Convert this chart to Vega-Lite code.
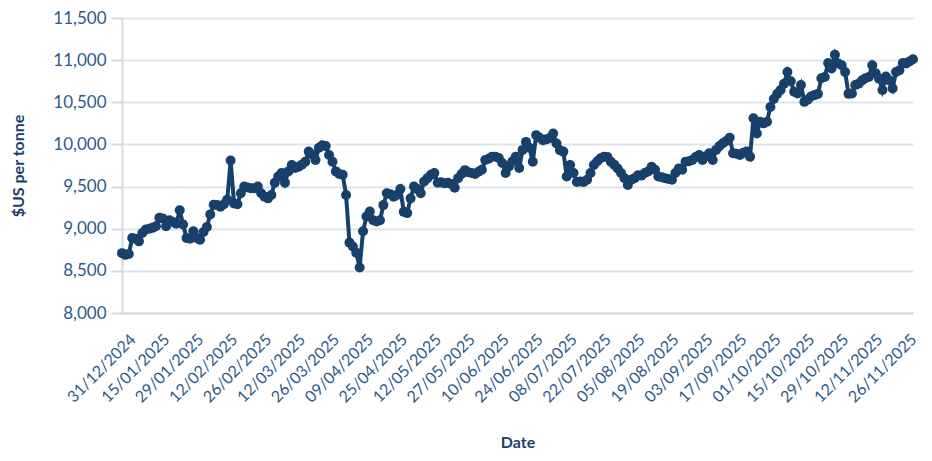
{
  "$schema": "https://vega.github.io/schema/vega-lite/v6.json",
  "width": 791,
  "height": 295,
  "autosize": "none",
  "padding": {"left": 122, "top": 18, "right": 19, "bottom": 148},
  "background": "white",
  "config": {
    "view": {"stroke": null},
    "font": "Lato",
    "axis": {
      "labelFont": "Lato",
      "titleFont": "Lato",
      "labelColor": "#2c5a88",
      "titleColor": "#17406b",
      "domainColor": "#d3d9e1",
      "domainWidth": 2,
      "gridColor": "#dfe4ea",
      "gridWidth": 2,
      "tickColor": "#d3d9e1",
      "tickWidth": 2
    }
  },
  "data": {
    "values": [
      {"Date": "31/12/2024", "Price": 8710},
      {"Date": "02/01/2025", "Price": 8690},
      {"Date": "03/01/2025", "Price": 8700},
      {"Date": "06/01/2025", "Price": 8890},
      {"Date": "07/01/2025", "Price": 8880},
      {"Date": "08/01/2025", "Price": 8850},
      {"Date": "09/01/2025", "Price": 8950},
      {"Date": "10/01/2025", "Price": 8990},
      {"Date": "13/01/2025", "Price": 9000},
      {"Date": "14/01/2025", "Price": 9010},
      {"Date": "15/01/2025", "Price": 9030},
      {"Date": "16/01/2025", "Price": 9130},
      {"Date": "17/01/2025", "Price": 9120},
      {"Date": "20/01/2025", "Price": 9030},
      {"Date": "21/01/2025", "Price": 9100},
      {"Date": "22/01/2025", "Price": 9080},
      {"Date": "23/01/2025", "Price": 9060},
      {"Date": "24/01/2025", "Price": 9220},
      {"Date": "27/01/2025", "Price": 9050},
      {"Date": "28/01/2025", "Price": 8890},
      {"Date": "29/01/2025", "Price": 8880},
      {"Date": "30/01/2025", "Price": 8970},
      {"Date": "31/01/2025", "Price": 8890},
      {"Date": "03/02/2025", "Price": 8870},
      {"Date": "04/02/2025", "Price": 8960},
      {"Date": "05/02/2025", "Price": 9020},
      {"Date": "06/02/2025", "Price": 9170},
      {"Date": "07/02/2025", "Price": 9285},
      {"Date": "10/02/2025", "Price": 9280},
      {"Date": "11/02/2025", "Price": 9260},
      {"Date": "12/02/2025", "Price": 9290},
      {"Date": "13/02/2025", "Price": 9345},
      {"Date": "14/02/2025", "Price": 9810},
      {"Date": "17/02/2025", "Price": 9300},
      {"Date": "18/02/2025", "Price": 9290},
      {"Date": "19/02/2025", "Price": 9420},
      {"Date": "20/02/2025", "Price": 9500},
      {"Date": "21/02/2025", "Price": 9490},
      {"Date": "24/02/2025", "Price": 9480},
      {"Date": "25/02/2025", "Price": 9480},
      {"Date": "26/02/2025", "Price": 9500},
      {"Date": "27/02/2025", "Price": 9420},
      {"Date": "28/02/2025", "Price": 9380},
      {"Date": "03/03/2025", "Price": 9360},
      {"Date": "04/03/2025", "Price": 9400},
      {"Date": "05/03/2025", "Price": 9545},
      {"Date": "06/03/2025", "Price": 9620},
      {"Date": "07/03/2025", "Price": 9660},
      {"Date": "10/03/2025", "Price": 9545},
      {"Date": "11/03/2025", "Price": 9680},
      {"Date": "12/03/2025", "Price": 9755},
      {"Date": "13/03/2025", "Price": 9720},
      {"Date": "14/03/2025", "Price": 9735},
      {"Date": "17/03/2025", "Price": 9760},
      {"Date": "18/03/2025", "Price": 9795},
      {"Date": "19/03/2025", "Price": 9915},
      {"Date": "20/03/2025", "Price": 9880},
      {"Date": "21/03/2025", "Price": 9815},
      {"Date": "24/03/2025", "Price": 9960},
      {"Date": "25/03/2025", "Price": 9990},
      {"Date": "26/03/2025", "Price": 9980},
      {"Date": "27/03/2025", "Price": 9875},
      {"Date": "28/03/2025", "Price": 9795},
      {"Date": "31/03/2025", "Price": 9680},
      {"Date": "01/04/2025", "Price": 9650},
      {"Date": "02/04/2025", "Price": 9640},
      {"Date": "03/04/2025", "Price": 9400},
      {"Date": "04/04/2025", "Price": 8835},
      {"Date": "07/04/2025", "Price": 8790},
      {"Date": "08/04/2025", "Price": 8715},
      {"Date": "09/04/2025", "Price": 8540},
      {"Date": "10/04/2025", "Price": 8970},
      {"Date": "11/04/2025", "Price": 9145},
      {"Date": "14/04/2025", "Price": 9205},
      {"Date": "15/04/2025", "Price": 9100},
      {"Date": "16/04/2025", "Price": 9085},
      {"Date": "17/04/2025", "Price": 9100},
      {"Date": "22/04/2025", "Price": 9280},
      {"Date": "23/04/2025", "Price": 9420},
      {"Date": "24/04/2025", "Price": 9410},
      {"Date": "25/04/2025", "Price": 9380},
      {"Date": "28/04/2025", "Price": 9400},
      {"Date": "29/04/2025", "Price": 9470},
      {"Date": "30/04/2025", "Price": 9200},
      {"Date": "01/05/2025", "Price": 9185},
      {"Date": "02/05/2025", "Price": 9360},
      {"Date": "06/05/2025", "Price": 9500},
      {"Date": "07/05/2025", "Price": 9470},
      {"Date": "08/05/2025", "Price": 9420},
      {"Date": "09/05/2025", "Price": 9560},
      {"Date": "12/05/2025", "Price": 9600},
      {"Date": "13/05/2025", "Price": 9640},
      {"Date": "14/05/2025", "Price": 9660},
      {"Date": "15/05/2025", "Price": 9545},
      {"Date": "16/05/2025", "Price": 9550},
      {"Date": "19/05/2025", "Price": 9540},
      {"Date": "20/05/2025", "Price": 9545},
      {"Date": "21/05/2025", "Price": 9530},
      {"Date": "22/05/2025", "Price": 9485},
      {"Date": "23/05/2025", "Price": 9600},
      {"Date": "27/05/2025", "Price": 9650},
      {"Date": "28/05/2025", "Price": 9695},
      {"Date": "29/05/2025", "Price": 9670},
      {"Date": "30/05/2025", "Price": 9660},
      {"Date": "02/06/2025", "Price": 9650},
      {"Date": "03/06/2025", "Price": 9675},
      {"Date": "04/06/2025", "Price": 9700},
      {"Date": "05/06/2025", "Price": 9815},
      {"Date": "06/06/2025", "Price": 9830},
      {"Date": "09/06/2025", "Price": 9855},
      {"Date": "10/06/2025", "Price": 9855},
      {"Date": "11/06/2025", "Price": 9840},
      {"Date": "12/06/2025", "Price": 9780},
      {"Date": "13/06/2025", "Price": 9660},
      {"Date": "16/06/2025", "Price": 9740},
      {"Date": "17/06/2025", "Price": 9800},
      {"Date": "18/06/2025", "Price": 9855},
      {"Date": "19/06/2025", "Price": 9720},
      {"Date": "20/06/2025", "Price": 9935},
      {"Date": "23/06/2025", "Price": 10030},
      {"Date": "24/06/2025", "Price": 9960},
      {"Date": "25/06/2025", "Price": 9795},
      {"Date": "26/06/2025", "Price": 10110},
      {"Date": "27/06/2025", "Price": 10080},
      {"Date": "30/06/2025", "Price": 10050},
      {"Date": "01/07/2025", "Price": 10060},
      {"Date": "02/07/2025", "Price": 10075},
      {"Date": "03/07/2025", "Price": 10130},
      {"Date": "04/07/2025", "Price": 10010},
      {"Date": "07/07/2025", "Price": 9930},
      {"Date": "08/07/2025", "Price": 9915},
      {"Date": "09/07/2025", "Price": 9620},
      {"Date": "10/07/2025", "Price": 9755},
      {"Date": "11/07/2025", "Price": 9660},
      {"Date": "14/07/2025", "Price": 9555},
      {"Date": "15/07/2025", "Price": 9560},
      {"Date": "16/07/2025", "Price": 9555},
      {"Date": "17/07/2025", "Price": 9580},
      {"Date": "18/07/2025", "Price": 9660},
      {"Date": "21/07/2025", "Price": 9755},
      {"Date": "22/07/2025", "Price": 9800},
      {"Date": "23/07/2025", "Price": 9835},
      {"Date": "24/07/2025", "Price": 9855},
      {"Date": "25/07/2025", "Price": 9850},
      {"Date": "28/07/2025", "Price": 9795},
      {"Date": "29/07/2025", "Price": 9760},
      {"Date": "30/07/2025", "Price": 9715},
      {"Date": "31/07/2025", "Price": 9660},
      {"Date": "01/08/2025", "Price": 9600},
      {"Date": "04/08/2025", "Price": 9520},
      {"Date": "05/08/2025", "Price": 9580},
      {"Date": "06/08/2025", "Price": 9600},
      {"Date": "07/08/2025", "Price": 9635},
      {"Date": "08/08/2025", "Price": 9630},
      {"Date": "11/08/2025", "Price": 9660},
      {"Date": "12/08/2025", "Price": 9680},
      {"Date": "13/08/2025", "Price": 9735},
      {"Date": "14/08/2025", "Price": 9700},
      {"Date": "15/08/2025", "Price": 9620},
      {"Date": "18/08/2025", "Price": 9610},
      {"Date": "19/08/2025", "Price": 9600},
      {"Date": "20/08/2025", "Price": 9590},
      {"Date": "21/08/2025", "Price": 9580},
      {"Date": "22/08/2025", "Price": 9660},
      {"Date": "26/08/2025", "Price": 9715},
      {"Date": "27/08/2025", "Price": 9700},
      {"Date": "28/08/2025", "Price": 9795},
      {"Date": "29/08/2025", "Price": 9800},
      {"Date": "01/09/2025", "Price": 9815},
      {"Date": "02/09/2025", "Price": 9850},
      {"Date": "03/09/2025", "Price": 9875},
      {"Date": "04/09/2025", "Price": 9815},
      {"Date": "05/09/2025", "Price": 9860},
      {"Date": "08/09/2025", "Price": 9895},
      {"Date": "09/09/2025", "Price": 9815},
      {"Date": "10/09/2025", "Price": 9935},
      {"Date": "11/09/2025", "Price": 9980},
      {"Date": "12/09/2025", "Price": 10015},
      {"Date": "15/09/2025", "Price": 10040},
      {"Date": "16/09/2025", "Price": 10080},
      {"Date": "17/09/2025", "Price": 9895},
      {"Date": "18/09/2025", "Price": 9890},
      {"Date": "19/09/2025", "Price": 9875},
      {"Date": "22/09/2025", "Price": 9900},
      {"Date": "23/09/2025", "Price": 9915},
      {"Date": "24/09/2025", "Price": 9855},
      {"Date": "25/09/2025", "Price": 10310},
      {"Date": "26/09/2025", "Price": 10130},
      {"Date": "29/09/2025", "Price": 10270},
      {"Date": "30/09/2025", "Price": 10250},
      {"Date": "01/10/2025", "Price": 10270},
      {"Date": "02/10/2025", "Price": 10445},
      {"Date": "03/10/2025", "Price": 10540},
      {"Date": "06/10/2025", "Price": 10600},
      {"Date": "07/10/2025", "Price": 10645},
      {"Date": "08/10/2025", "Price": 10720},
      {"Date": "09/10/2025", "Price": 10860},
      {"Date": "10/10/2025", "Price": 10750},
      {"Date": "13/10/2025", "Price": 10625},
      {"Date": "14/10/2025", "Price": 10605},
      {"Date": "15/10/2025", "Price": 10705},
      {"Date": "16/10/2025", "Price": 10505},
      {"Date": "17/10/2025", "Price": 10530},
      {"Date": "20/10/2025", "Price": 10570},
      {"Date": "21/10/2025", "Price": 10585},
      {"Date": "22/10/2025", "Price": 10600},
      {"Date": "23/10/2025", "Price": 10785},
      {"Date": "24/10/2025", "Price": 10800},
      {"Date": "27/10/2025", "Price": 10965},
      {"Date": "28/10/2025", "Price": 10900},
      {"Date": "29/10/2025", "Price": 11065},
      {"Date": "30/10/2025", "Price": 10960},
      {"Date": "31/10/2025", "Price": 10940},
      {"Date": "03/11/2025", "Price": 10860},
      {"Date": "04/11/2025", "Price": 10600},
      {"Date": "05/11/2025", "Price": 10605},
      {"Date": "06/11/2025", "Price": 10705},
      {"Date": "07/11/2025", "Price": 10720},
      {"Date": "10/11/2025", "Price": 10760},
      {"Date": "11/11/2025", "Price": 10785},
      {"Date": "12/11/2025", "Price": 10800},
      {"Date": "13/11/2025", "Price": 10940},
      {"Date": "14/11/2025", "Price": 10845},
      {"Date": "17/11/2025", "Price": 10780},
      {"Date": "18/11/2025", "Price": 10645},
      {"Date": "19/11/2025", "Price": 10805},
      {"Date": "20/11/2025", "Price": 10760},
      {"Date": "21/11/2025", "Price": 10665},
      {"Date": "24/11/2025", "Price": 10860},
      {"Date": "25/11/2025", "Price": 10880},
      {"Date": "26/11/2025", "Price": 10965},
      {"Date": "27/11/2025", "Price": 10960},
      {"Date": "28/11/2025", "Price": 10985},
      {"Date": "01/12/2025", "Price": 11010}
    ]
  },
  "mark": {
    "type": "line",
    "color": "#17406b",
    "strokeWidth": 4,
    "point": {"filled": true, "size": 100, "color": "#17406b", "opacity": 1}
  },
  "encoding": {
    "x": {
      "field": "Date",
      "type": "ordinal",
      "sort": null,
      "scale": {"type": "point", "padding": 0},
      "axis": {
        "title": "Date",
        "titleFontSize": 16,
        "titleFontWeight": "bold",
        "titlePadding": 29,
        "labelFontSize": 16,
        "labelAngle": -45,
        "labelPadding": 18,
        "labelOffset": 5,
        "ticks": false,
        "grid": false,
        "values": ["31/12/2024", "15/01/2025", "29/01/2025", "12/02/2025", "26/02/2025", "12/03/2025", "26/03/2025", "09/04/2025", "25/04/2025", "12/05/2025", "27/05/2025", "10/06/2025", "24/06/2025", "08/07/2025", "22/07/2025", "05/08/2025", "19/08/2025", "03/09/2025", "17/09/2025", "01/10/2025", "15/10/2025", "29/10/2025", "12/11/2025", "26/11/2025"]
      }
    },
    "y": {
      "field": "Price",
      "type": "quantitative",
      "scale": {"domain": [8000, 11500], "nice": false},
      "axis": {
        "title": "$US per tonne",
        "titleFontSize": 16,
        "titleFontWeight": "bold",
        "titlePadding": 26,
        "labelFontSize": 17,
        "labelPadding": 5,
        "tickSize": 11,
        "values": [8000, 8500, 9000, 9500, 10000, 10500, 11000, 11500],
        "format": ",.0f"
      }
    }
  }
}
